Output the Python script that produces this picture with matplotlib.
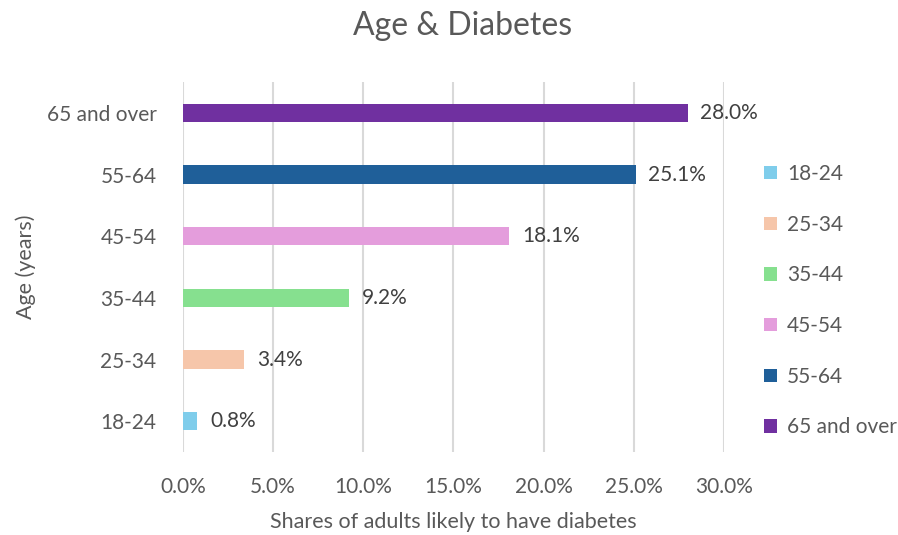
import matplotlib.pyplot as plt
from matplotlib.patches import Patch

plt.rcParams['font.family'] = ['Lato', 'DejaVu Sans']

grupos = ["18-24", "25-34", "35-44", "45-54", "55-64", "65 and over"]
valores = [0.8, 3.4, 9.2, 18.1, 25.1, 28.0]
cores = ["#7fcdeb", "#f6c6aa", "#86e08f", "#e49ddc", "#1f5f99", "#7030a0"]
ticks_x = [0, 5, 10, 15, 20, 25, 30]

cinza = "#595959"

fig = plt.figure(figsize=(8.98, 5.35), dpi=100)
ax = fig.add_axes([0.2038, 0.155, 0.6024, 0.6916])

pos = range(len(grupos))
ax.barh(pos, valores, height=0.3, color=cores, zorder=3)
for i, v in zip(pos, valores):
    ax.annotate(f"{v:.1f}%", (v, i), xytext=(9, 0), textcoords="offset points",
                va="center", ha="left", fontsize=15, color="#404040")

ax.set_xlim(0, 30)
ax.set_ylim(-0.5, len(grupos) - 0.5)
ax.set_xticks(ticks_x)
ax.set_xticklabels([f"{t:.1f}%" for t in ticks_x])
ax.set_yticks(list(pos))
ax.set_yticklabels(grupos)
ax.tick_params(axis="both", length=0, labelsize=15, labelcolor=cinza)
ax.tick_params(axis="x", pad=18)
ax.tick_params(axis="y", pad=19)
ax.grid(axis="x", color="#d9d9d9", linewidth=1.5, zorder=0)
for s in ax.spines.values():
    s.set_visible(False)

ax.set_xlabel("Shares of adults likely to have diabetes", fontsize=15.5, color=cinza, labelpad=11)
ax.set_ylabel("Age (years)", fontsize=15.5, color=cinza, labelpad=8)
fig.text(0.515, 0.952, "Age & Diabetes", ha="center", va="center", fontsize=23, color=cinza)

handles = [Patch(facecolor=c, label=g) for c, g in zip(cores, grupos)]
fig.legend(handles=handles, loc="center left", bbox_to_anchor=(0.83, 0.438),
           frameon=False, fontsize=15, labelcolor=cinza, handlelength=0.6,
           handleheight=0.6, handletextpad=0.5, labelspacing=1.47)

fig.savefig("out.png", dpi=100)
